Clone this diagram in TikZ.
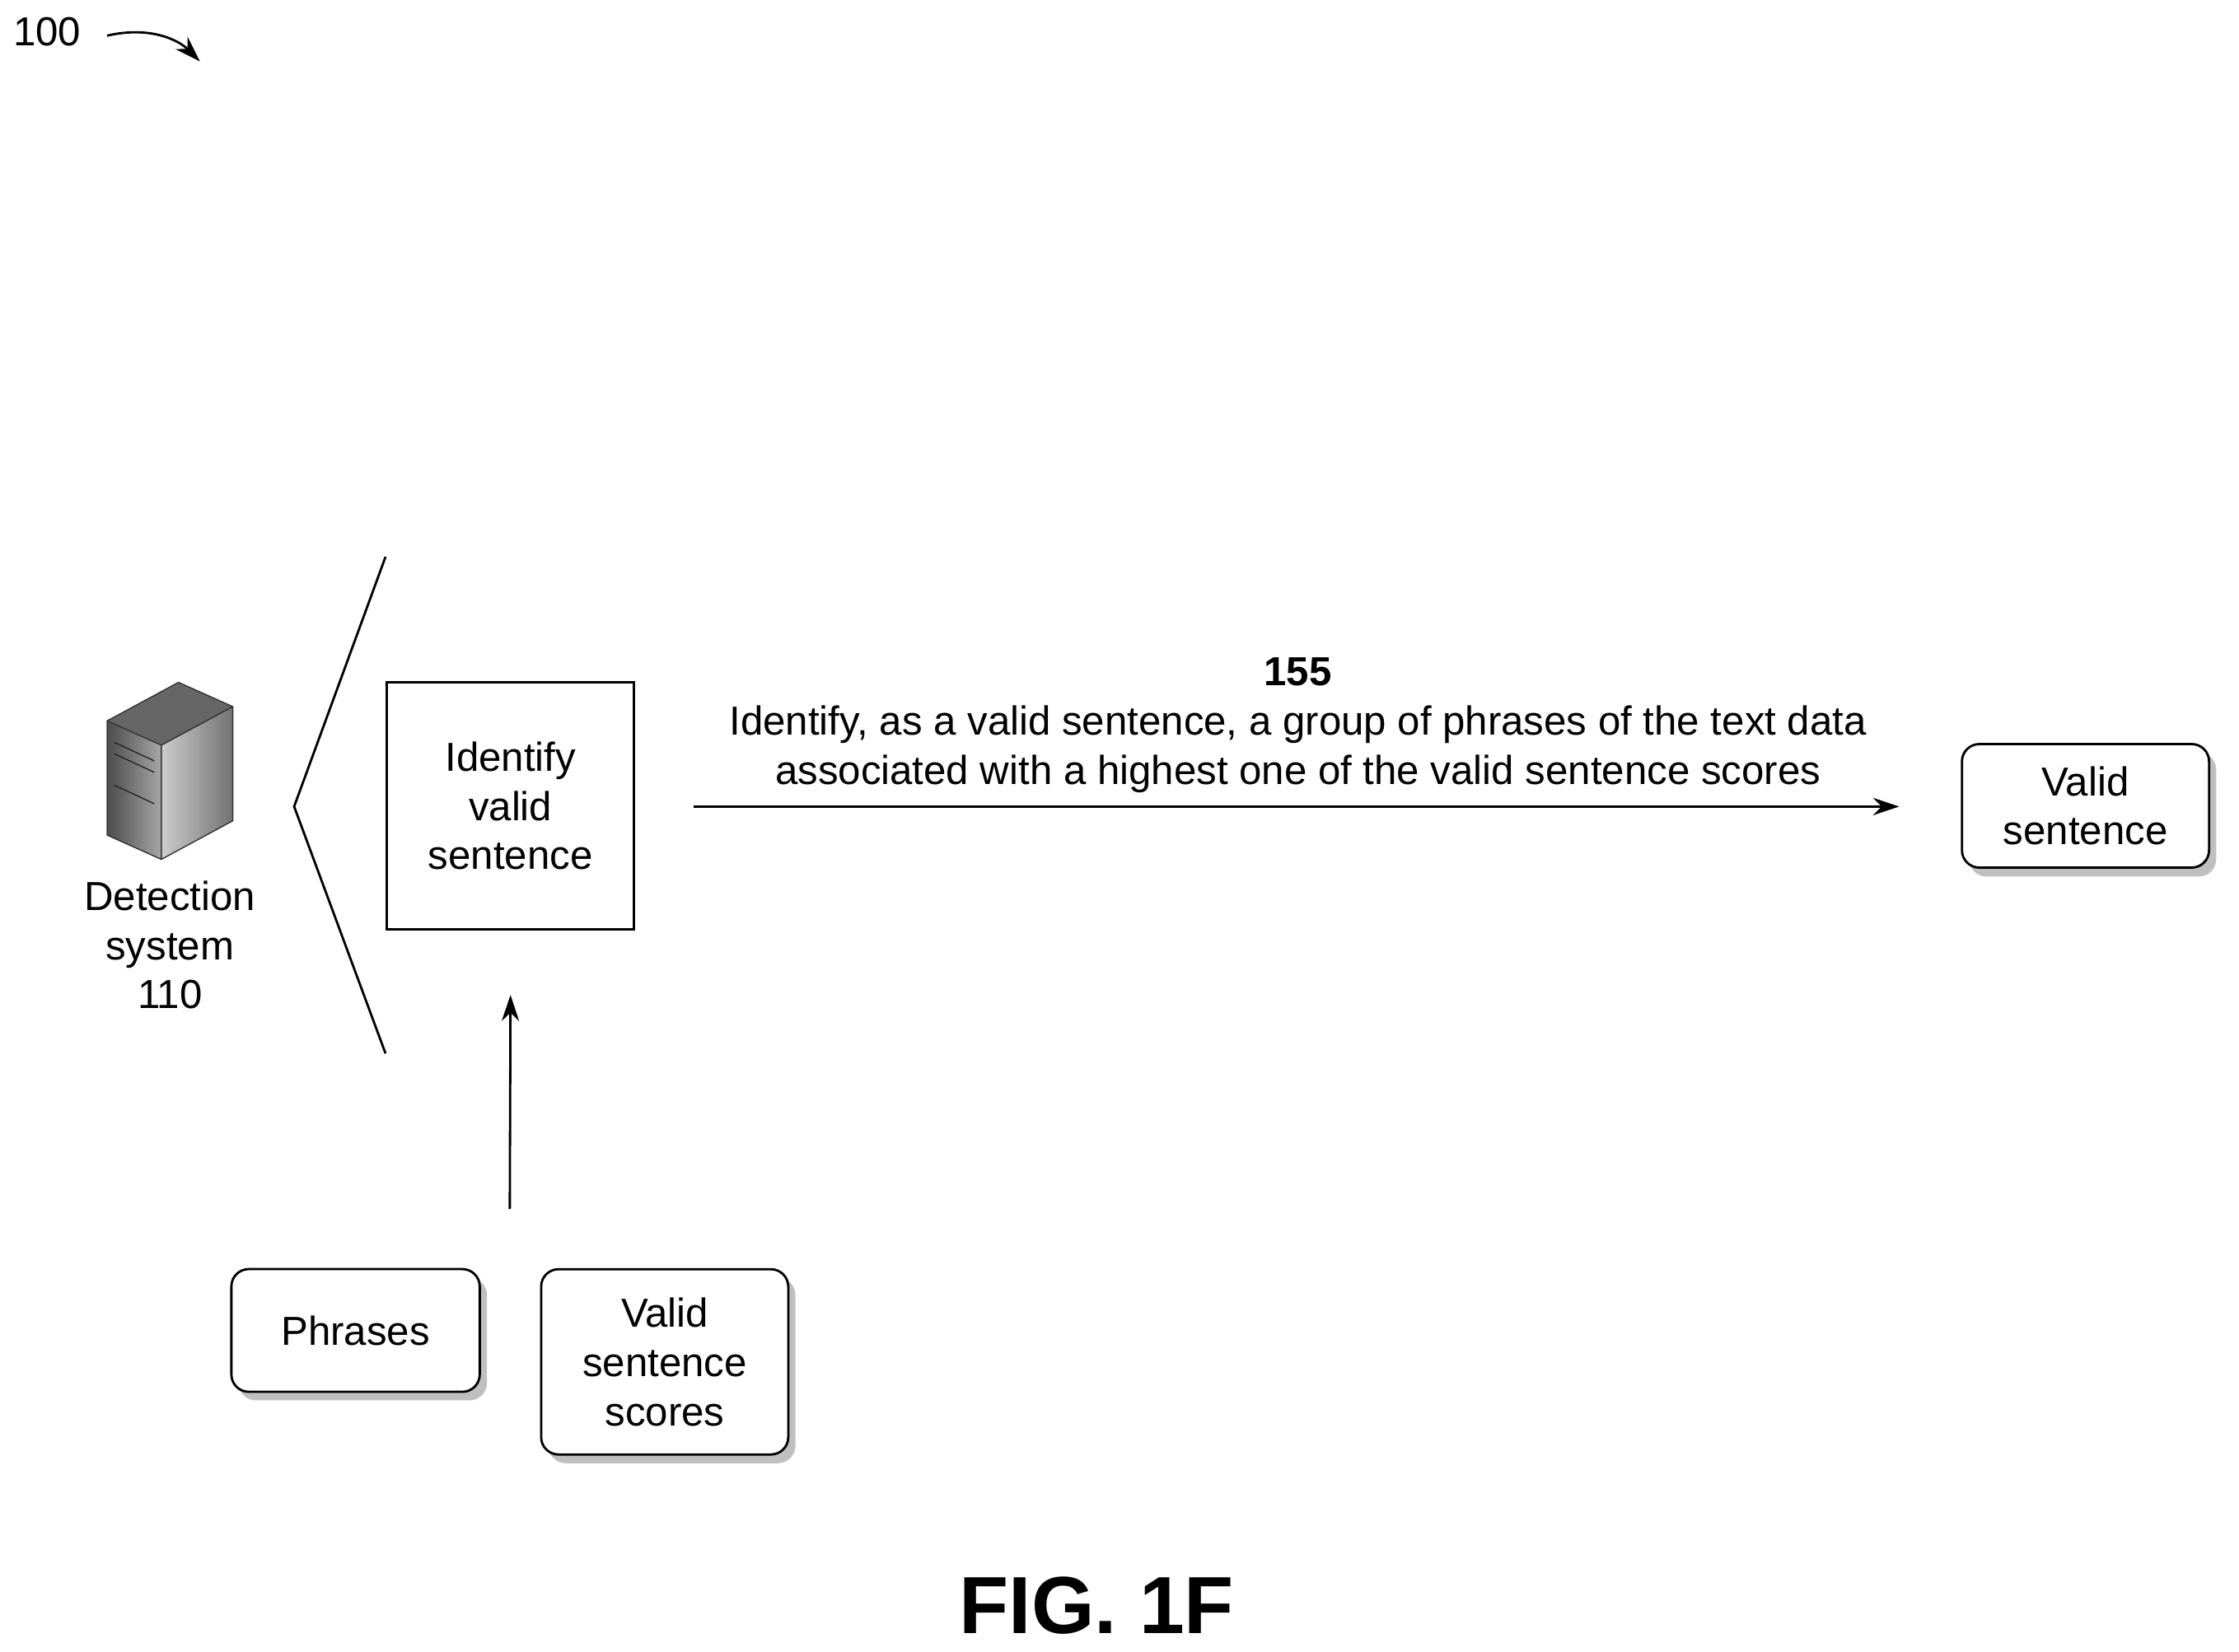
\documentclass[tikz,border=0pt]{standalone}
\usepackage{fontspec}
\setmainfont{Liberation Sans}
\usetikzlibrary{positioning,arrows.meta}
\tikzset{box/.style={draw, thick, rounded corners=6pt, fill=white, align=center,
         font=\fontsize{14}{17}\selectfont},
         drop/.style={fill=black!25, draw=none, rounded corners=6pt},
         lbl/.style={align=center, font=\fontsize{14}{17}\selectfont},
         arr/.style={-{Stealth[length=9pt,width=6pt]}, thick}}
\begin{document}
\begin{tikzpicture}[x=0.01733cm, y=-0.01733cm]
  \useasboundingbox (0,0) rectangle (1568,1157);

  % reference number
  \node[lbl] (ref) at (33,22) {100};
  \coordinate (refend) at (140,43);
  \draw[arr] (75,25) .. controls (105,18) and (125,28) .. (refend);

  % server icon
  \fill[black!60] (75,505) -- (125,478) -- (163,495) -- (113,522) -- cycle;
  \shade[left color=black!20, right color=black!55] (113,522) -- (163,495) -- (163,575) -- (113,602) -- cycle;
  \shade[left color=black!70, right color=black!35] (75,505) -- (113,522) -- (113,602) -- (75,585) -- cycle;
  \draw[black!80] (75,505) -- (125,478) -- (163,495) -- (163,575) -- (113,602) -- (75,585) -- cycle
    (75,505) -- (113,522) -- (163,495) (113,522) -- (113,602);
  \draw[black!85] (80,520) -- (108,533) (80,528) -- (108,541) (80,550) -- (108,563);
  \node[lbl] (det) at (119,662) {Detection\\system\\110};

  % bracket
  \draw[thick] (270,390) -- (206,565) -- (270,738);

  \node[draw, thick, lbl, minimum width=3cm, minimum height=3cm] (ident) at (357.5,564.5) {Identify\\valid\\sentence};

  \fill[drop] (1379,527) rectangle (1552,614);
  \node[box, minimum width=3cm, minimum height=1.5cm] (valid) at (1460.5,564.5) {Valid\\sentence};

  \coordinate (a1) at (486,565);
  \coordinate (a2) at (1330,565);
  \draw[arr] (a1) -- (a2);
  \node[lbl] (step) at (909,508) {\textbf{155}\\Identify, as a valid sentence, a group of phrases of the text data\\associated with a highest one of the valid sentence scores};

  % inputs
  \fill[drop] (167,895) rectangle (341,981);
  \node[box, minimum width=3.015cm, minimum height=1.49cm] (phr) at (249,932) {Phrases};
  \fill[drop] (384,895) rectangle (557,1025);
  \node[box, minimum width=3cm, minimum height=2.25cm] (scores) at (465.5,954) {Valid\\sentence\\scores};
  \coordinate (up) at (357,847);
  \draw[arr] (up) -- (ident.south |- 0,697);

  \node[font=\fontsize{28}{32}\selectfont\bfseries] (fig) at (768,1125) {FIG. 1F};
\end{tikzpicture}
\end{document}
